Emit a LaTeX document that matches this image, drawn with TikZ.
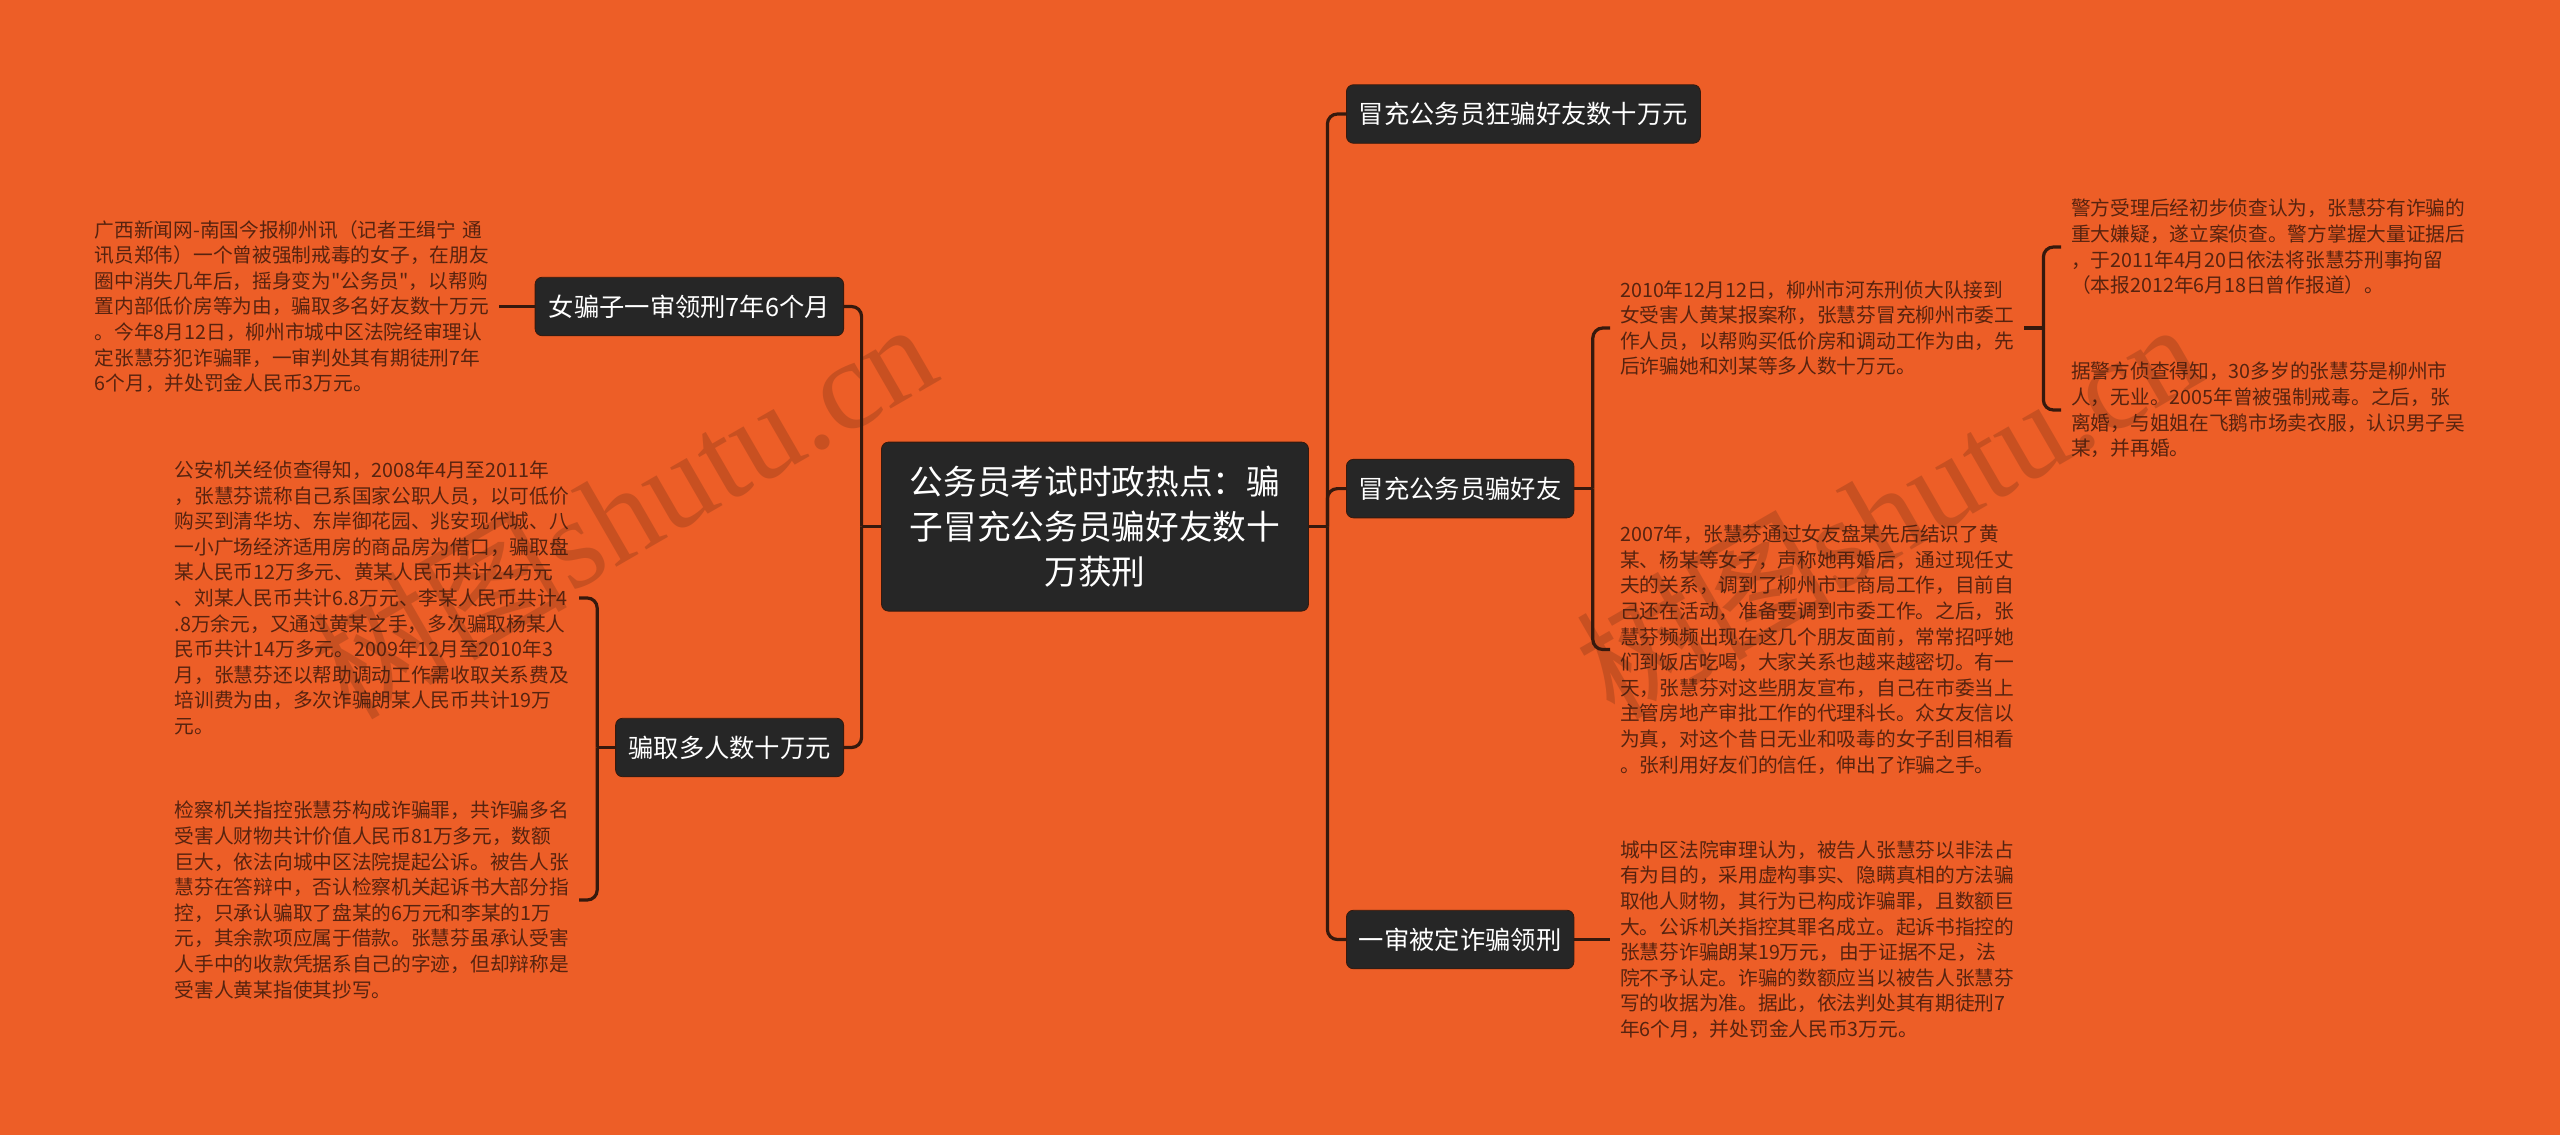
\documentclass[tikz,border=0pt]{standalone}
\usepackage{fontspec}
\usepackage{xcolor}
\setmainfont{Noto Sans CJK SC}[Ligatures=TeXOff]
\newfontfamily\wmfont{Liberation Serif}
\definecolor{bgorange}{HTML}{ED5E27}
\definecolor{boxdark}{HTML}{262626}
\definecolor{linkbrown}{HTML}{36190D}
\definecolor{parabrown}{HTML}{57230F}

\begin{document}
\begin{tikzpicture}[x=1pt,y=-1pt]
  \tikzstyle{rootbox}=[fill=boxdark,draw=linkbrown,line width=0.8pt,rounded corners=7pt,text=white,align=center,minimum width=427pt,minimum height=169pt,inner sep=0pt,font=\fontsize{33.7}{44.6}\selectfont]
  \tikzstyle{topicbox}=[fill=boxdark,draw=linkbrown,line width=0.8pt,rounded corners=7pt,text=white,minimum height=58.5pt,inner sep=0pt,font=\fontsize{25.3}{30}\selectfont]
  \tikzstyle{para}=[text=parabrown,text width=394pt,align=left,inner xsep=10pt,inner ysep=0pt,font=\fontsize{19.7}{25.6}\selectfont]
  \tikzstyle{link}=[draw=linkbrown,line width=3.2pt,rounded corners=10pt]
  \tikzstyle{watermark}=[text=linkbrown,text opacity=0.2,rotate=30,anchor=base east,font=\fontsize{128}{128}\selectfont]

  \useasboundingbox (0,0) rectangle (2560,1135);
  \fill[bgorange] (0,0) rectangle (2560,1135);

  \node[rootbox] (root) at (1095,526.6) {公务员考试时政热点^^^^ff1a骗\\子冒充公务员骗好友数十\\万获刑};

  % right side
  \node[topicbox,anchor=west,minimum width=354pt] (impost) at (1346,114) {冒充公务员狂骗好友数十万元};
  \node[topicbox,anchor=west,minimum width=227.5pt] (friends) at (1346,488.6) {冒充公务员骗好友};
  \node[topicbox,anchor=west,minimum width=227.5pt] (verdict) at (1346,939.5) {一审被定诈骗领刑};

  \node[para,anchor=west] (report) at (1610,328) {2010年12月12日^^^^ff0c柳州市河东刑侦大队接到\\女受害人黄某报案称^^^^ff0c张慧芬冒充柳州市委工\\作人员^^^^ff0c以帮购买低价房和调动工作为由^^^^ff0c先\\后诈骗她和刘某等多人数十万元。};
  \node[para,anchor=west] (meet) at (1610,649.5) {2007年^^^^ff0c张慧芬通过女友盘某先后结识了黄\\某、杨某等女子^^^^ff0c声称她再婚后^^^^ff0c通过现任丈\\夫的关系^^^^ff0c调到了柳州市工商局工作^^^^ff0c目前自\\己还在活动^^^^ff0c准备要调到市委工作。之后^^^^ff0c张\\慧芬频频出现在这几个朋友面前^^^^ff0c常常招呼她\\们到饭店吃喝^^^^ff0c大家关系也越来越密切。有一\\天^^^^ff0c张慧芬对这些朋友宣布^^^^ff0c自己在市委当上\\主管房地产审批工作的代理科长。众女友信以\\为真^^^^ff0c对这个昔日无业和吸毒的女子刮目相看\\。张利用好友们的信任^^^^ff0c伸出了诈骗之手。};
  \node[para,anchor=west] (court) at (1610,939.5) {城中区法院审理认为^^^^ff0c被告人张慧芬以非法占\\有为目的^^^^ff0c采用虚构事实、隐瞒真相的方法骗\\取他人财物^^^^ff0c其行为已构成诈骗罪^^^^ff0c且数额巨\\大。公诉机关指控其罪名成立。起诉书指控的\\张慧芬诈骗朗某19万元^^^^ff0c由于证据不足^^^^ff0c法\\院不予认定。诈骗的数额应当以被告人张慧芬\\写的收据为准。据此^^^^ff0c依法判处其有期徒刑7\\年6个月^^^^ff0c并处罚金人民币3万元。};
  \node[para,anchor=west] (police) at (2061,247) {警方受理后经初步侦查认为^^^^ff0c张慧芬有诈骗的\\重大嫌疑^^^^ff0c遂立案侦查。警方掌握大量证据后\\^^^^ff0c于2011年4月20日依法将张慧芬刑事拘留\\^^^^ff08本报2012年6月18日曾作报道^^^^ff09。};
  \node[para,anchor=west] (history) at (2061,410) {据警方侦查得知^^^^ff0c30多岁的张慧芬是柳州市\\人^^^^ff0c无业。2005年曾被强制戒毒。之后^^^^ff0c张\\离婚^^^^ff0c与姐姐在飞鹅市场卖衣服^^^^ff0c认识男子吴\\某^^^^ff0c并再婚。};

  % left side
  \node[topicbox,anchor=east,minimum width=308.5pt] (sentence) at (844,306.5) {女骗子一审领刑7年6个月};
  \node[topicbox,anchor=east,minimum width=228pt] (cheat) at (844,747.5) {骗取多人数十万元};

  \node[para,anchor=east] (news) at (499,306.5) {广西新闻网-南国今报柳州讯^^^^ff08记者王缉宁 通\\讯员郑伟^^^^ff09一个曾被强制戒毒的女子^^^^ff0c在朋友\\圈中消失几年后^^^^ff0c摇身变为"公务员"^^^^ff0c以帮购\\置内部低价房等为由^^^^ff0c骗取多名好友数十万元\\。今年8月12日^^^^ff0c柳州市城中区法院经审理认\\定张慧芬犯诈骗罪^^^^ff0c一审判处其有期徒刑7年\\6个月^^^^ff0c并处罚金人民币3万元。};
  \node[para,anchor=east] (probe) at (579,598) {公安机关经侦查得知^^^^ff0c2008年4月至2011年\\^^^^ff0c张慧芬谎称自己系国家公职人员^^^^ff0c以可低价\\购买到清华坊、东岸御花园、兆安现代城、八\\一小广场经济适用房的商品房为借口^^^^ff0c骗取盘\\某人民币12万多元、黄某人民币共计24万元\\、刘某人民币共计6.8万元、李某人民币共计4\\.8万余元^^^^ff0c又通过黄某之手^^^^ff0c多次骗取杨某人\\民币共计14万多元。2009年12月至2010年3\\月^^^^ff0c张慧芬还以帮助调动工作需收取关系费及\\培训费为由^^^^ff0c多次诈骗朗某人民币共计19万\\元。};
  \node[para,anchor=east] (charge) at (579,900) {检察机关指控张慧芬构成诈骗罪^^^^ff0c共诈骗多名\\受害人财物共计价值人民币81万多元^^^^ff0c数额\\巨大^^^^ff0c依法向城中区法院提起公诉。被告人张\\慧芬在答辩中^^^^ff0c否认检察机关起诉书大部分指\\控^^^^ff0c只承认骗取了盘某的6万元和李某的1万\\元^^^^ff0c其余款项应属于借款。张慧芬虽承认受害\\人手中的收款凭据系自己的字迹^^^^ff0c但却辩称是\\受害人黄某指使其抄写。};

  \draw[link] (root.east) -- ++(18.5,0) coordinate (rootright);
  \draw[link] (rootright) |- (impost.west);
  \draw[link] (rootright) |- (friends.west);
  \draw[link] (rootright) |- (verdict.west);
  \draw[link] (root.west) -- ++(-19.5,0) coordinate (rootleft);
  \draw[link] (rootleft) |- (sentence.east);
  \draw[link] (rootleft) |- (cheat.east);

  \draw[link] (friends.east) -- ++(18.5,0) coordinate (friendsfork);
  \draw[link] (friendsfork) |- (report.west);
  \draw[link] (friendsfork) |- (meet.west);
  \draw[link] (verdict.east) -- (court.west);
  \draw[link] (report.east) -- ++(19,0) coordinate (reportfork);
  \draw[link] (reportfork) |- (police.west);
  \draw[link] (reportfork) |- (history.west);

  \draw[link] (sentence.west) -- (news.east);
  \draw[link] (cheat.west) -- ++(-18,0) coordinate (cheatfork);
  \draw[link] (cheatfork) |- (probe.east);
  \draw[link] (cheatfork) |- (charge.east);

  \node[watermark] (wmleft) at (947,377) {树图{\wmfont shutu.cn}};
  \node[watermark] (wmright) at (2212,377) {树图{\wmfont shutu.cn}};
\end{tikzpicture}
\end{document}
